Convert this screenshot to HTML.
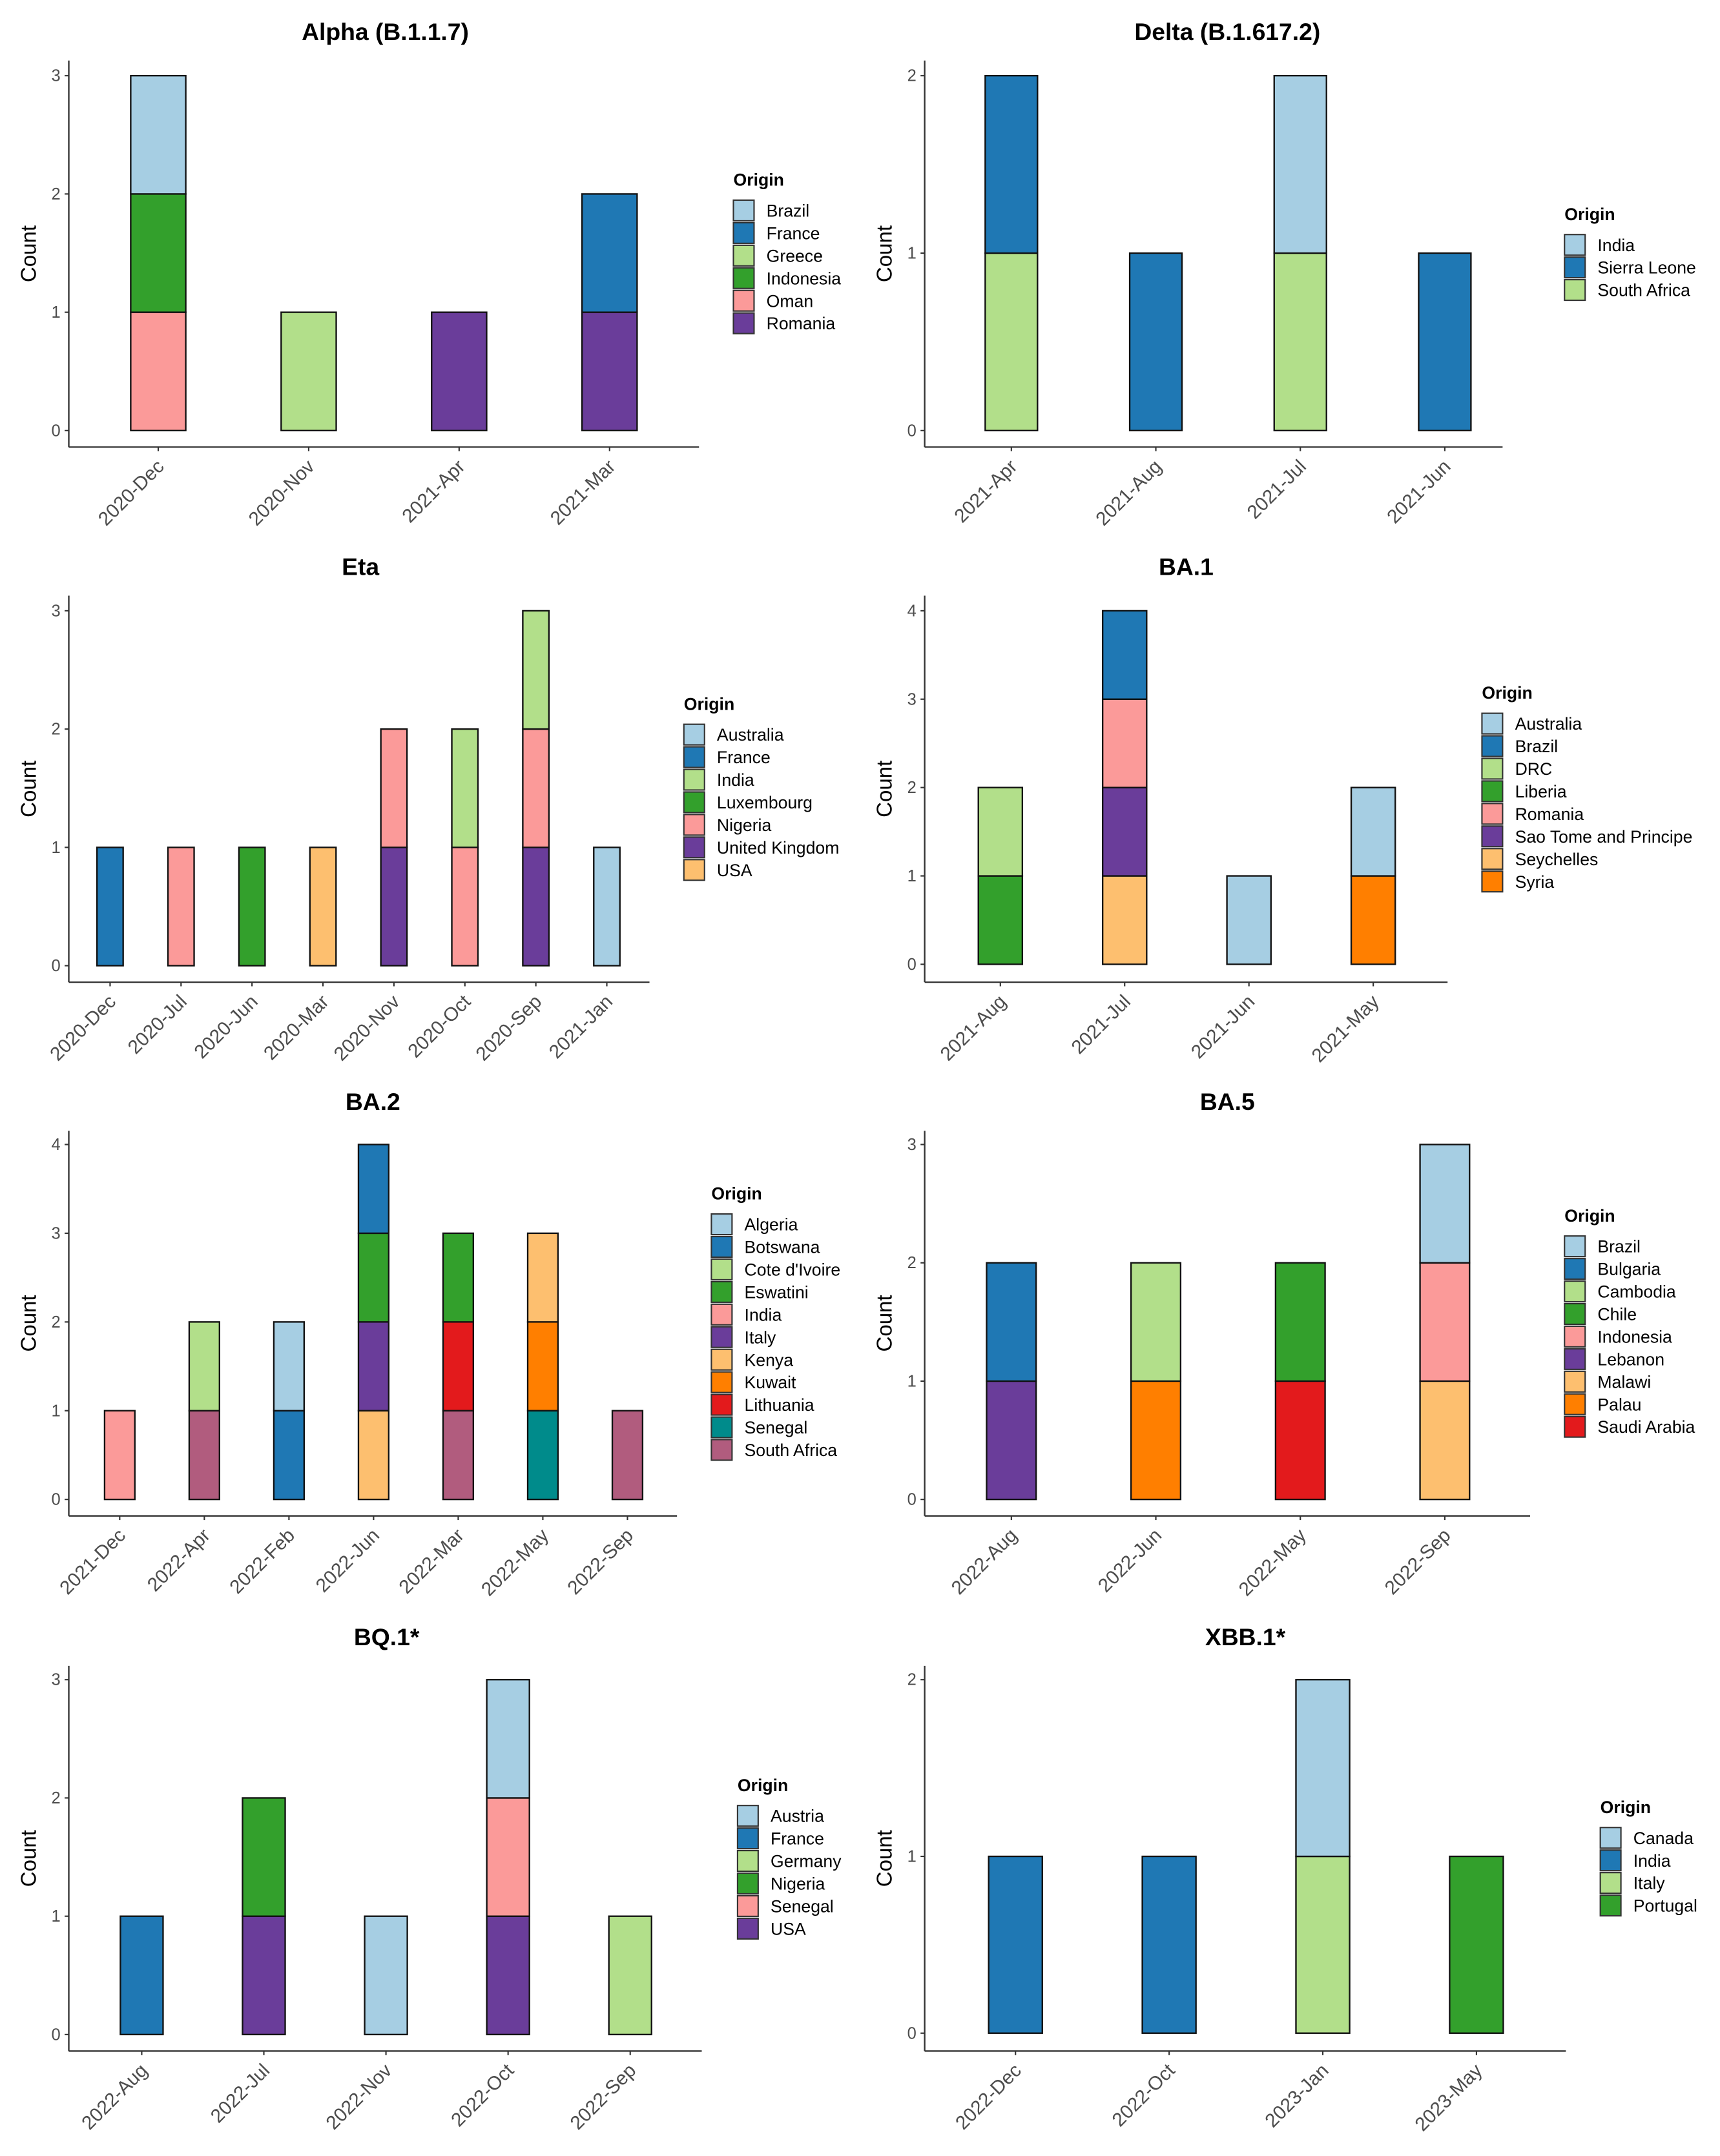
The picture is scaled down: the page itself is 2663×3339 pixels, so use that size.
<!DOCTYPE html>
<html><head><meta charset="utf-8"><style>
html,body{margin:0;padding:0;background:#fff;}
svg{display:block;font-family:"Liberation Sans",Arial,sans-serif;}
</style></head><body>
<svg id="chart" width="2663" height="3339" viewBox="0 0 1250 1567.3" preserveAspectRatio="none" xmlns="http://www.w3.org/2000/svg"></svg>
<script>
// Alpha
const alphaCategories = ["2020-Dec","2020-Nov","2021-Apr","2021-Mar"];
const alphaOrigins = ["Brazil","France","Greece","Indonesia","Oman","Romania"];
const alphaCounts = [[1,0,0,0],[0,0,0,1],[0,1,0,0],[1,0,0,0],[1,0,0,0],[0,0,1,1]];
// Delta
const deltaCategories = ["2021-Apr","2021-Aug","2021-Jul","2021-Jun"];
const deltaOrigins = ["India","Sierra Leone","South Africa"];
const deltaCounts = [[0,0,1,0],[1,1,0,1],[1,0,1,0]];
// Eta
const etaCategories = ["2020-Dec","2020-Jul","2020-Jun","2020-Mar","2020-Nov","2020-Oct","2020-Sep","2021-Jan"];
const etaOrigins = ["Australia","France","India","Luxembourg","Nigeria","United Kingdom","USA"];
const etaCounts = [[0,0,0,0,0,0,0,1],[1,0,0,0,0,0,0,0],[0,0,0,0,0,1,1,0],[0,0,1,0,0,0,0,0],[0,1,0,0,1,1,1,0],[0,0,0,0,1,0,1,0],[0,0,0,1,0,0,0,0]];
// BA.1
const ba1Categories = ["2021-Aug","2021-Jul","2021-Jun","2021-May"];
const ba1Origins = ["Australia","Brazil","DRC","Liberia","Romania","Sao Tome and Principe","Seychelles","Syria"];
const ba1Counts = [[0,0,1,1],[0,1,0,0],[1,0,0,0],[1,0,0,0],[0,1,0,0],[0,1,0,0],[0,1,0,0],[0,0,0,1]];
// BA.2
const ba2Categories = ["2021-Dec","2022-Apr","2022-Feb","2022-Jun","2022-Mar","2022-May","2022-Sep"];
const ba2Origins = ["Algeria","Botswana","Cote d'Ivoire","Eswatini","India","Italy","Kenya","Kuwait","Lithuania","Senegal","South Africa"];
const ba2Counts = [[0,0,1,0,0,0,0],[0,0,1,1,0,0,0],[0,1,0,0,0,0,0],[0,0,0,1,1,0,0],[1,0,0,0,0,0,0],[0,0,0,1,0,0,0],[0,0,0,1,0,1,0],[0,0,0,0,0,1,0],[0,0,0,0,1,0,0],[0,0,0,0,0,1,0],[0,1,0,0,1,0,1]];
// BA.5
const ba5Categories = ["2022-Aug","2022-Jun","2022-May","2022-Sep"];
const ba5Origins = ["Brazil","Bulgaria","Cambodia","Chile","Indonesia","Lebanon","Malawi","Palau","Saudi Arabia"];
const ba5Counts = [[0,0,0,1],[1,0,0,0],[0,1,0,0],[0,0,1,0],[0,0,0,1],[1,0,0,0],[0,0,0,1],[0,1,0,0],[0,0,1,0]];
// BQ.1*
const bq1Categories = ["2022-Aug","2022-Jul","2022-Nov","2022-Oct","2022-Sep"];
const bq1Origins = ["Austria","France","Germany","Nigeria","Senegal","USA"];
const bq1Counts = [[0,0,1,1,0],[1,0,0,0,0],[0,0,0,0,1],[0,1,0,0,0],[0,0,0,1,0],[0,1,0,1,0]];
// XBB.1*
const xbbCategories = ["2022-Dec","2022-Oct","2023-Jan","2023-May"];
const xbbOrigins = ["Canada","India","Italy","Portugal"];
const xbbCounts = [[0,0,1,0],[1,1,0,0],[0,0,1,0],[0,0,0,1]];

const C = {lb:"#A6CEE3",b:"#1F78B4",lg:"#B2DF8A",g:"#33A02C",p:"#FB9A99",r:"#E31A1C",lo:"#FDBF6F",o:"#FF7F00",pu:"#6A3D9A",t:"#008B8B",m:"#B15C7E"};
const panels = [
 {name:"alpha",title:"Alpha (B.1.1.7)",cats:alphaCategories,origins:alphaOrigins,counts:alphaCounts,cols:[C.lb,C.b,C.lg,C.g,C.p,C.pu],ax:50,top:44,xa:325,xe:508,y0:313,ymax:3,ytop:55,x1:115,xn:443,bw:40,lx:533,lt:131,tx:280,ty:23},
 {name:"delta",title:"Delta (B.1.617.2)",cats:deltaCategories,origins:deltaOrigins,counts:deltaCounts,cols:[C.lb,C.b,C.lg],ax:672,top:44,xa:325,xe:1092,y0:313,ymax:2,ytop:55,x1:735,xn:1050,bw:38,lx:1137,lt:156,tx:892,ty:23},
 {name:"eta",title:"Eta",cats:etaCategories,origins:etaOrigins,counts:etaCounts,cols:[C.lb,C.b,C.lg,C.g,C.p,C.pu,C.lo],ax:50,top:433,xa:714,xe:472,y0:702,ymax:3,ytop:444,x1:80,xn:441,bw:19,lx:497,lt:512,tx:262,ty:412},
 {name:"ba1",title:"BA.1",cats:ba1Categories,origins:ba1Origins,counts:ba1Counts,cols:[C.lb,C.b,C.lg,C.g,C.p,C.pu,C.lo,C.o],ax:672,top:433,xa:714,xe:1052,y0:701,ymax:4,ytop:444,x1:727,xn:998,bw:32,lx:1077,lt:504,tx:862,ty:412},
 {name:"ba2",title:"BA.2",cats:ba2Categories,origins:ba2Origins,counts:ba2Counts,cols:[C.lb,C.b,C.lg,C.g,C.p,C.pu,C.lo,C.o,C.r,C.t,C.m],ax:50,top:822,xa:1102,xe:492,y0:1090,ymax:4,ytop:832,x1:87,xn:456,bw:22,lx:517,lt:868,tx:271,ty:801},
 {name:"ba5",title:"BA.5",cats:ba5Categories,origins:ba5Origins,counts:ba5Counts,cols:[C.lb,C.b,C.lg,C.g,C.p,C.pu,C.lo,C.o,C.r],ax:672,top:822,xa:1102,xe:1112,y0:1090,ymax:3,ytop:832,x1:735,xn:1050,bw:36,lx:1137,lt:884,tx:892,ty:801},
 {name:"bq1",title:"BQ.1*",cats:bq1Categories,origins:bq1Origins,counts:bq1Counts,cols:[C.lb,C.b,C.lg,C.g,C.p,C.pu],ax:50,top:1211,xa:1491,xe:510,y0:1479,ymax:3,ytop:1221,x1:103,xn:458,bw:31,lx:536,lt:1298,tx:281,ty:1190},
 {name:"xbb1",title:"XBB.1*",cats:xbbCategories,origins:xbbOrigins,counts:xbbCounts,cols:[C.lb,C.b,C.lg,C.g],ax:672,top:1211,xa:1491,xe:1138,y0:1478,ymax:2,ytop:1221,x1:738,xn:1073,bw:39,lx:1163,lt:1314,tx:905,ty:1190}
];
const NS="http://www.w3.org/2000/svg";
const svg=document.getElementById("chart");
function mk(tag,attrs,parent,text){const e=document.createElementNS(NS,tag);for(const k in attrs)e.setAttribute(k,attrs[k]);if(text!==undefined)e.textContent=text;parent.appendChild(e);return e;}
panels.forEach(p=>{
  const g=mk("g",{},svg);
  
  
  const yScale=v=>p.y0-(p.y0-p.ytop)*v/p.ymax;
  const n=p.cats.length;
  const xScale=i=>n===1?p.x1:p.x1+(p.xn-p.x1)*i/(n-1);
  const t=mk("text",{x:p.tx,y:p.ty+6,"text-anchor":"middle","font-size":17.5,"font-weight":"bold",fill:"#000"},g,p.title);
  
  
  const ya=mk("line",{x1:p.ax,y1:p.top,x2:p.ax,y2:p.xa,stroke:"#333","stroke-width":1.1},g);
  
  
  const xa=mk("line",{x1:p.ax,y1:p.xa,x2:p.xe,y2:p.xa,stroke:"#333","stroke-width":1.1},g);
  
  
  for(let v=0;v<=p.ymax;v++){
    const y=yScale(v);
    mk("line",{x1:p.ax-3,y1:y,x2:p.ax,y2:y,stroke:"#333","stroke-width":1},g);
    const tl=mk("text",{x:p.ax-6,y:y+4,"text-anchor":"end","font-size":12,fill:"#4d4d4d"},g,String(v));
    
    
  }
  const yl=mk("text",{x:0,y:0,"text-anchor":"middle","font-size":15.5,fill:"#000",transform:`translate(${p.ax-24},${(p.top+p.xa)/2}) rotate(-90)`},g,"Count");
  
  
  p.cats.forEach((c,i)=>{
    const x=xScale(i);
    mk("line",{x1:x,y1:p.xa,x2:x,y2:p.xa+3,stroke:"#333","stroke-width":1},g);
    const xl=mk("text",{x:0,y:0,"text-anchor":"end","font-size":14,fill:"#4d4d4d",transform:`translate(${x+5},${p.xa+15}) rotate(-45)`},g,c);
    
    
    let cum=0;
    for(let k=p.origins.length-1;k>=0;k--){
      const v=p.counts[k][i];
      if(!v)continue;
      const yb=yScale(cum), yt=yScale(cum+v);
      const r=mk("rect",{x:x-p.bw/2,y:yt,width:p.bw,height:yb-yt,fill:p.cols[k],stroke:"#111","stroke-width":1.1},g);
      
      
      cum+=v;
    }
  });
  const lt=mk("text",{x:p.lx,y:p.lt+4,"font-size":12.5,"font-weight":"bold",fill:"#000"},g,"Origin");
  
  
  p.origins.forEach((o,k)=>{
    const y=p.lt+22+16.4*k;
    const lg=mk("g",{},g);
    
    
    mk("rect",{x:p.lx,y:y-7.5,width:15,height:15,fill:p.cols[k],stroke:"#333","stroke-width":1},lg);
    mk("text",{x:p.lx+24,y:y+4.5,"font-size":12.5,fill:"#000"},lg,o);
  });
});
</script>
</body></html>
